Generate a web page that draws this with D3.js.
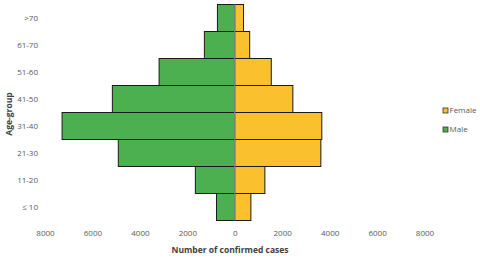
<!DOCTYPE html>
<html>
<head>
<meta charset="utf-8">
<script src="https://cdn.jsdelivr.net/npm/d3@7"></script>
<style>
  body { margin: 0; background: #fff; }
  text { font-family: "Open Sans", sans-serif; }
</style>
</head>
<body>
<svg id="chart" width="480" height="259"></svg>
<script>
// age groups, top to bottom
var ageGroups = ['>70', '61-70', '51-60', '41-50', '31-40', '21-30', '11-20', '\u2264 10'];
var maleCases = [730, 1280, 3190, 5160, 7280, 4910, 1660, 770];
var femaleCases = [370, 630, 1540, 2450, 3670, 3630, 1270, 680];
var tickValues = [-8000, -6000, -4000, -2000, 0, 2000, 4000, 6000, 8000];

var svg = d3.select('#chart');

var x = d3.scaleLinear().domain([-8000, 8000]).range([45, 424.5]);
var y = d3.scaleBand().domain(ageGroups).range([4.5, 220.5]).padding(0);

var green = '#4CAF50';
var yellow = '#FBC02D';

// male bars (left)
svg.append('g').selectAll('rect')
    .data(ageGroups)
    .enter()
    .append('rect')
    .attr('x', (d, i) => x(-maleCases[i]))
    .attr('y', d => y(d))
    .attr('width', (d, i) => x(0) - x(-maleCases[i]))
    .attr('height', y.bandwidth())
    .attr('fill', green)
    .attr('stroke', '#1a1a1a')
    .attr('stroke-width', 1);

// female bars (right)
svg.append('g').selectAll('rect')
    .data(ageGroups)
    .enter()
    .append('rect')
    .attr('x', x(0))
    .attr('y', d => y(d))
    .attr('width', (d, i) => x(femaleCases[i]) - x(0))
    .attr('height', y.bandwidth())
    .attr('fill', yellow)
    .attr('stroke', '#1a1a1a')
    .attr('stroke-width', 1);

// zero line
svg.append('line')
    .attr('x1', x(0)).attr('x2', x(0))
    .attr('y1', y.range()[0]).attr('y2', y.range()[1])
    .attr('stroke', '#9a9a9a')
    .attr('stroke-width', 1);

// x axis ticks (no line)
var xAxis = d3.axisBottom(x)
    .tickValues(tickValues)
    .tickSize(0)
    .tickPadding(0)
    .tickFormat(d => Math.abs(d));

var gx = svg.append('g')
    .attr('transform', 'translate(0,230)')
    .call(xAxis);
gx.select('.domain').remove();
gx.selectAll('text')
    .attr('font-family', '"Open Sans", sans-serif')
    .attr('font-size', '8px')
    .attr('fill', '#595959');

// y axis labels
var yAxis = d3.axisLeft(y).tickSize(0).tickPadding(0);
var gy = svg.append('g')
    .attr('transform', 'translate(38,0)')
    .call(yAxis);
gy.select('.domain').remove();
gy.selectAll('text')
    .attr('font-family', '"Open Sans", sans-serif')
    .attr('font-size', '8px')
    .attr('fill', '#595959');

// axis titles
svg.append('text')
    .attr('x', 230)
    .attr('y', 253)
    .attr('text-anchor', 'middle')
    .style('font-size', '8.5px')
    .style('font-weight', 'bold')
    .style('fill', '#404040')
    .text('Number of confirmed cases');

svg.append('text')
    .attr('transform', 'translate(12,114) rotate(-90)')
    .attr('text-anchor', 'middle')
    .style('font-size', '8.5px')
    .style('font-weight', 'bold')
    .style('fill', '#404040')
    .text('Age-group');

// legend
var legendNames = ['Female', 'Male'];
var legendColors = [yellow, green];
var legend = svg.append('g').attr('transform', 'translate(443,108)');
legendNames.forEach(function(name, i) {
    legend.append('rect')
        .attr('x', 0)
        .attr('y', i * 19)
        .attr('width', 5)
        .attr('height', 5)
        .attr('fill', legendColors[i])
        .attr('stroke', '#333')
        .attr('stroke-width', 0.8);
    legend.append('text')
        .attr('x', 6.5)
        .attr('y', i * 19 + 2.5)
        .attr('dominant-baseline', 'middle')
        .style('font-size', '8px')
        .style('fill', '#595959')
        .text(name);
});
</script>
</body>
</html>
